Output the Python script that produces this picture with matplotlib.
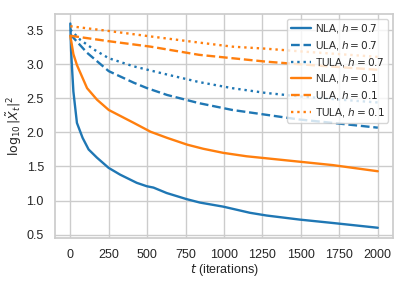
import matplotlib
matplotlib.use("Agg")
import matplotlib.pyplot as plt
import seaborn as sns
import numpy as np

sns.set_theme(style="whitegrid")
plt.rcParams['font.family'] = ['Liberation Sans', 'DejaVu Sans']
plt.rcParams['mathtext.fontset'] = 'dejavusans'

# NLA h=0.7
t_nla07 = [0, 5, 11, 20, 43, 80, 119, 173, 249, 324, 432, 497, 541, 627, 757, 843, 995, 1168, 1276, 1492, 1708, 2000]
v_nla07 = [3.6, 3.2, 2.95, 2.6, 2.14, 1.92, 1.75, 1.63, 1.48, 1.38, 1.26, 1.21, 1.19, 1.11, 1.02, 0.97, 0.91, 0.82, 0.78, 0.72, 0.67, 0.60]
# ULA h=0.7
t_ula07 = [0, 109, 250, 413, 500, 630, 837, 1054, 1272, 1489, 1707, 2000]
v_ula07 = [3.44, 3.17, 2.90, 2.73, 2.65, 2.55, 2.43, 2.33, 2.26, 2.19, 2.14, 2.07]
# TULA h=0.7
t_tula07 = [0, 65, 152, 250, 413, 630, 837, 1054, 1272, 1489, 1707, 2000]
v_tula07 = [3.51, 3.36, 3.22, 3.09, 2.97, 2.85, 2.74, 2.65, 2.58, 2.53, 2.49, 2.44]
# NLA h=0.1
t_nla01 = [0, 20, 43, 109, 174, 250, 413, 522, 630, 761, 865, 995, 1146, 1276, 1492, 1708, 2000]
v_nla01 = [3.42, 3.15, 2.99, 2.65, 2.48, 2.33, 2.14, 2.01, 1.92, 1.82, 1.76, 1.70, 1.65, 1.62, 1.57, 1.52, 1.43]
# ULA h=0.1
t_ula01 = [0, 250, 522, 837, 1054, 1272, 1500, 1750, 2000]
v_ula01 = [3.42, 3.34, 3.26, 3.14, 3.09, 3.04, 3.00, 2.96, 2.92]
# TULA h=0.1
t_tula01 = [0, 250, 522, 837, 1054, 1272, 1500, 1750, 2000]
v_tula01 = [3.56, 3.49, 3.41, 3.32, 3.26, 3.23, 3.19, 3.15, 3.11]

blue = '#1f77b4'
orange = '#ff7f0e'

fig = plt.figure(figsize=(4.07, 2.85), dpi=100)
ax = fig.add_axes([0.135, 0.165, 0.831, 0.786])
lw = 1.7
ax.plot(t_nla07, v_nla07, color=blue, ls='-', lw=lw, label='NLA, $h = 0.7$')
ax.plot(t_ula07, v_ula07, color=blue, ls='--', lw=lw, label='ULA, $h = 0.7$')
ax.plot(t_tula07, v_tula07, color=blue, ls=':', lw=lw, label='TULA, $h = 0.7$')
ax.plot(t_nla01, v_nla01, color=orange, ls='-', lw=lw, label='NLA, $h = 0.1$')
ax.plot(t_ula01, v_ula01, color=orange, ls='--', lw=lw, label='ULA, $h = 0.1$')
ax.plot(t_tula01, v_tula01, color=orange, ls=':', lw=lw, label='TULA, $h = 0.1$')

ax.set_xticks([0, 250, 500, 750, 1000, 1250, 1500, 1750, 2000])
ax.set_yticks([0.5, 1.0, 1.5, 2.0, 2.5, 3.0, 3.5])
ax.set_xlim(-100, 2100)
ax.set_ylim(0.45, 3.74)
ax.tick_params(labelsize=9, pad=2)
ax.set_xlabel(r'$t$ (iterations)', fontsize=9, labelpad=1)
ax.set_ylabel(r'$\log_{10}|\tilde{X}_t|^2$', fontsize=9, labelpad=2)
ax.legend(loc='upper right', fontsize=7.6, framealpha=0.8, handlelength=1.9,
          borderpad=0.35, labelspacing=0.35, handletextpad=0.4,
          borderaxespad=0.45)
fig.savefig('out.png', dpi=100)
